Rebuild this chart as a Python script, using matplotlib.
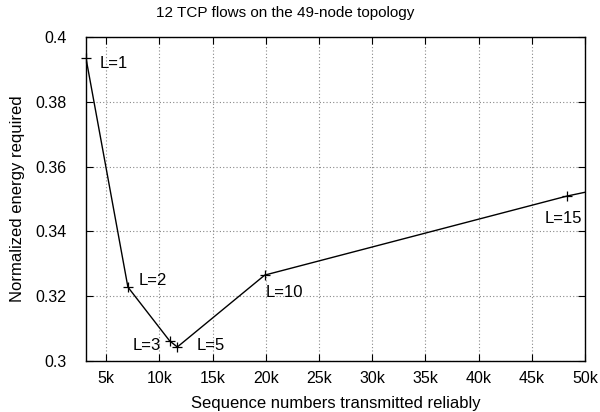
import matplotlib
matplotlib.use("Agg")
import matplotlib.pyplot as plt
from matplotlib.ticker import FuncFormatter

plt.rcParams['font.family'] = ['Liberation Sans', 'DejaVu Sans']

# Data
seqnums = [3100, 7040, 10960, 11685, 19900, 48300, 60000]
energy = [0.3935, 0.3228, 0.3062, 0.3043, 0.3265, 0.3509, 0.3590]
labels = ['L=1', 'L=2', 'L=3', 'L=5', 'L=10', 'L=15', '']
offsets = [(10, -4), (8, 5), (-6, -3.5), (14, 1), (1, -12.5), (-16, -16), (0, 0)]

xticks = [5000, 10000, 15000, 20000, 25000, 30000, 35000, 40000, 45000, 50000]
yticks = [0.30, 0.32, 0.34, 0.36, 0.38, 0.40]

fig = plt.figure(figsize=(6.0, 4.12), dpi=100)
ax = fig.add_axes([0.1433, 0.124, 0.8317, 0.786])

ax.plot(seqnums, energy, color='black', lw=1.0)
# markers (the last point lies beyond the x range)
ax.plot(seqnums[:-1], energy[:-1], ls='none', color='black', marker='+',
        ms=7, mew=0.9, clip_on=False)
for x, y, lab, off in zip(seqnums, energy, labels, offsets):
    if lab:
        ax.annotate(lab, (x, y), xytext=off, textcoords='offset points',
                    fontsize=12, va='center',
                    ha='right' if lab == 'L=3' else 'left')

ax.set_xlim(3100, 50000)
ax.set_ylim(0.3, 0.4)
ax.set_xticks(xticks)
ax.set_yticks(yticks)
ax.xaxis.set_major_formatter(FuncFormatter(lambda v, p: '%dk' % (v / 1000)))
ax.yaxis.set_major_formatter(FuncFormatter(lambda v, p: '%g' % round(v, 2)))
ax.tick_params(direction='in', top=True, right=True, length=5, labelsize=11.5)
ax.tick_params(axis='y', pad=14)
ax.tick_params(axis='x', pad=7)
ax.grid(True, color='#888888', ls=(0, (1, 2)), lw=0.8)
for s in ax.spines.values():
    s.set_linewidth(1.0)

fig.text(0.475, 1 - 13 / 412, '12 TCP flows on the 49-node topology',
         fontsize=11, ha='center', va='center')
ax.set_xlabel('Sequence numbers transmitted reliably', fontsize=12)
ax.set_ylabel('Normalized energy required', fontsize=12)
ax.xaxis.set_label_coords(0.5, -0.108)
ax.yaxis.set_label_coords(-0.122, 0.5)

fig.savefig('out.png', dpi=100)
